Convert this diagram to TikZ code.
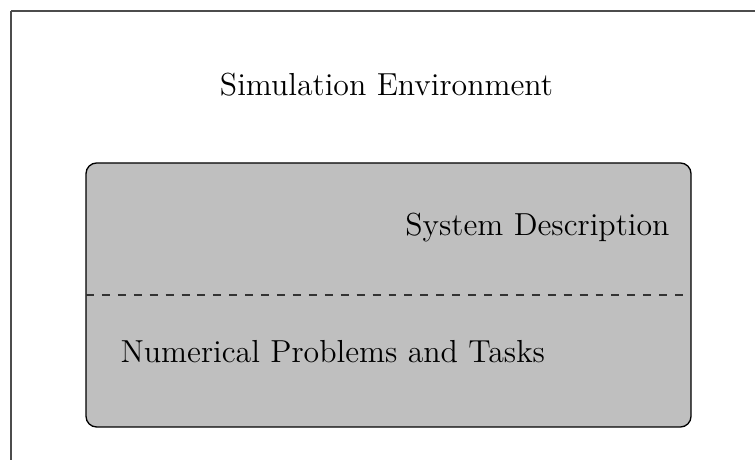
\documentclass[tikz,border=0pt]{standalone}
\begin{document}
\begin{tikzpicture}[x=0.013245cm,y=-0.013245cm,
  lbl/.style={inner sep=0pt,font=\fontsize{12pt}{14pt}\selectfont},
  panel/.style={draw=black,fill=black!25,rounded corners=4pt,line width=0.5pt,
    inner sep=0pt,minimum width=605*0.013245cm,minimum height=264*0.013245cm}]
\useasboundingbox (0,0) rectangle (755,460);
\begin{scope}
\clip (0,0) rectangle (755,460);
\draw[black!70,line width=0.5pt] (11,11) -- (900,11);
\draw[black!70,line width=0.5pt] (11,11) -- (11,600);
\end{scope}
\node[panel] (box) at (388.5,295) {};
\coordinate (dl) at (86,295);
\coordinate (dr) at (686,295);
\draw[dashed,black!80,line width=0.5pt] (dl) -- (dr);
\node[lbl,anchor=base] (sim) at (386.5,96) {Simulation Environment};
\node[lbl,anchor=base east] (sys) at (670,236) {System Description};
\node[lbl,anchor=base west] (num) at (120,363) {Numerical Problems and Tasks};
\end{tikzpicture}
\end{document}
